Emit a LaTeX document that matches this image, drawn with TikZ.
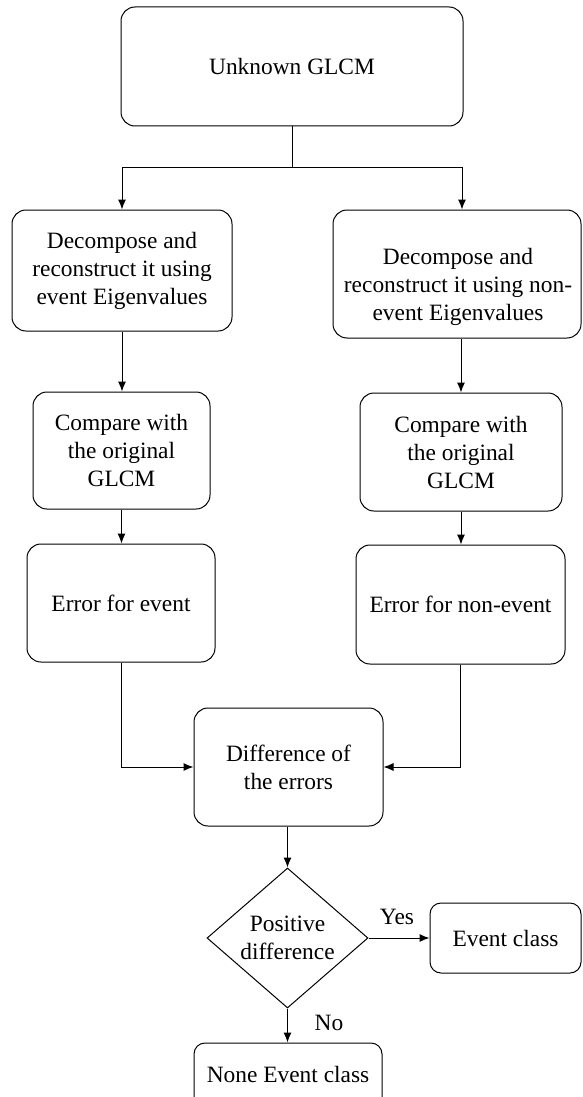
\documentclass[tikz,border=0pt]{standalone}
\usepackage{fontspec}
\setmainfont{Liberation Serif}
\usetikzlibrary{shapes.geometric,arrows.meta}
\begin{document}
\begin{tikzpicture}[x=1pt,y=-1pt,
  font=\fontsize{23.4}{28}\selectfont,
  box/.style={draw,line width=1pt,rounded corners=14pt,align=center,inner sep=0pt},
  txt/.style={align=center,inner sep=0pt},
  decision/.style={draw,line width=1pt,diamond,align=center,inner sep=0pt},
  link/.style={line width=1pt},
  arr/.style={line width=1pt,-{Latex[length=10pt,width=8pt]}},
  ]
\useasboundingbox (0,0) rectangle (582,1097);

% steps of the procedure
\node[box,minimum width=342pt,minimum height=119pt] (top) at (292,66.5) {Unknown GLCM};

\node[box,minimum width=220pt,minimum height=121pt] (L1) at (122,270.5)
  {Decompose and\\reconstruct it using\\event Eigenvalues};
\node[box,minimum width=248pt,minimum height=128pt] (R1) at (457,274) {};
\node[txt] (R1t) at (458,287)
  {Decompose and\\reconstruct it using non-\\event Eigenvalues};

\node[box,minimum width=177pt,minimum height=117pt] (L2) at (121.5,450.5)
  {Compare with\\the original\\GLCM};
\node[box,minimum width=202pt,minimum height=118pt] (R2) at (461,452)
  {Compare with\\the original\\GLCM};

\node[box,minimum width=188pt,minimum height=118pt] (LE) at (121,603) {Error for event};
\node[box,minimum width=209pt,minimum height=119pt] (RE) at (460.5,604.5) {Error for non-event};

\node[box,minimum width=189pt,minimum height=118pt] (D) at (288.5,767)
  {Difference of\\the errors};

\node[decision,minimum width=161pt,minimum height=140pt] (dia) at (287.5,938)
  {Positive\\difference};

\node[box,rounded corners=11pt,minimum width=151pt,minimum height=70pt] (EC) at (505.5,938) {Event class};
% the last box runs on past the lower edge of the page
\node[box,rounded corners=11pt,minimum width=188pt,minimum height=90pt] (NE) at (288,1088) {};
\node[txt] (NEt) at (288,1074) {None Event class};

% connectors
\coordinate (split) at (292,167);
\draw[link] (top.south) -- (split);
\draw[arr] (split) -| (L1.north);
\draw[arr] (split) -| ([xshift=5pt]R1.north);
\draw[arr] (L1.south) -- (L1.south |- L2.north);
\draw[arr] (R2.north |- R1.south) -- (R2.north);
\draw[arr] (L2.south) -- (L2.south |- LE.north);
\draw[arr] (R2.south) -- (R2.south |- RE.north);
\draw[arr] (LE.south) |- (D.west);
\draw[arr] (RE.south) |- (D.east);
\draw[arr] (D.south -| dia.north) -- (dia.north);
\draw[arr] (dia.east) -- (EC.west);
\draw[arr] (dia.south) -- (NE.north -| dia.south);

% branch labels
\node[txt] (yes) at (397,917) {Yes};
\node[txt] (no) at (329,1023) {No};
\end{tikzpicture}
\end{document}
